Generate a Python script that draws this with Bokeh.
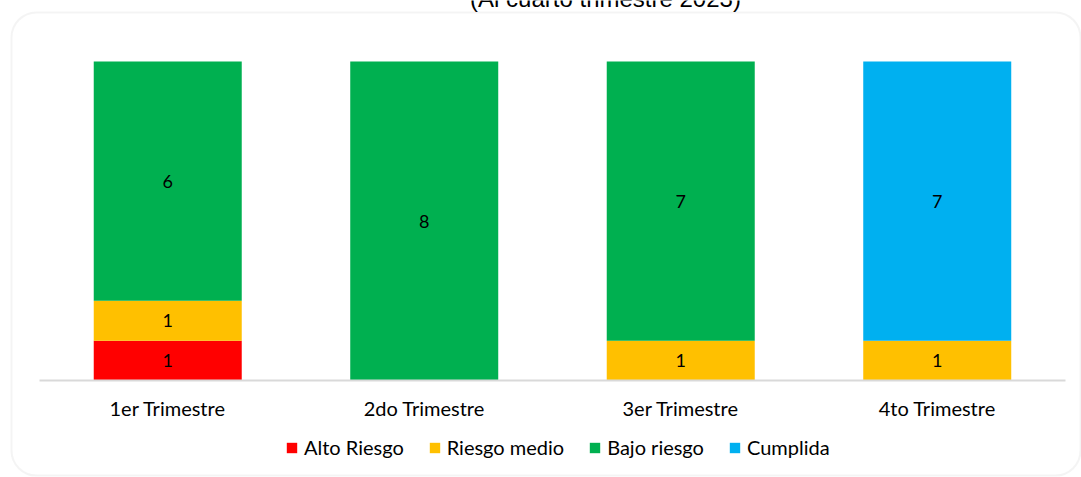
from bokeh.plotting import figure
from bokeh.models import (ColumnDataSource, Range1d, Legend, LegendItem,
                          BoxAnnotation, Label, FixedTicker)
from bokeh.core.properties import value
from bokeh.embed import file_html
from bokeh.resources import INLINE

categories = ["1er Trimestre", "2do Trimestre", "3er Trimestre", "4to Trimestre"]
series_names = ["Alto Riesgo", "Riesgo medio", "Bajo riesgo", "Cumplida"]
alto_riesgo = [1, 0, 0, 0]
riesgo_medio = [1, 0, 1, 1]
bajo_riesgo = [6, 8, 7, 0]
cumplida = [0, 0, 0, 7]
colors = ["#FF0000", "#FFC000", "#00B050", "#00B0F0"]
title_text = "(Al cuarto trimestre 2023)"

FONT = "Lato"
keys = ["alto", "medio", "bajo", "cumplida"]
xpos = list(range(len(categories)))
data = {"x": xpos, "alto": alto_riesgo, "medio": riesgo_medio,
        "bajo": bajo_riesgo, "cumplida": cumplida}
src = ColumnDataSource(data)

W, H = 1081, 477
p = figure(width=W, height=H,
           x_range=Range1d(-0.652, 3.5624), y_range=Range1d(-2.4326, 9.5298),
           output_backend="svg", toolbar_location=None,
           min_border_left=0, min_border_right=0, min_border_top=0, min_border_bottom=0,
           y_axis_location=None)
p.outline_line_color = None
p.xgrid.visible = False
p.ygrid.visible = False
p.background_fill_color = "white"
p.border_fill_color = "white"

renderers = p.vbar_stack(keys, x="x", width=0.577, source=src, color=colors,
                         line_color=None)

# data labels
lx, ly, lt = [], [], []
series = [alto_riesgo, riesgo_medio, bajo_riesgo, cumplida]
for i in xpos:
    base = 0
    for s in series:
        v = s[i]
        if v:
            lx.append(i)
            ly.append(base + v / 2)
            lt.append(str(v))
        base += v
p.text(x=lx, y=ly, text=lt, text_align="center", text_baseline="middle",
       text_font=value(FONT), text_font_size="18px", text_color="#000000")

ax = p.xaxis[0]
ax.fixed_location = 0
ax.bounds = (-0.5, 3.5)
ax.ticker = FixedTicker(ticks=xpos)
ax.major_label_overrides = {i: c for i, c in zip(xpos, categories)}
ax.axis_line_color = "#D9D9D9"
ax.axis_line_width = 2
ax.major_tick_line_color = None
ax.minor_tick_line_color = None
ax.major_label_text_font = FONT
ax.major_label_text_font_size = "20px"
ax.major_label_text_color = "#000000"
ax.major_label_standoff = 9

legend = Legend(items=[LegendItem(label=n, renderers=[r]) for n, r in zip(series_names, renderers)],
                orientation="horizontal", location=(285, 18),
                glyph_width=13, glyph_height=13, label_standoff=6, spacing=24,
                label_text_font=FONT, label_text_font_size="20px", label_text_color="#000000",
                border_line_color=None, background_fill_alpha=0, padding=5, margin=0)
p.add_layout(legend)

# rounded chart-area border
p.add_layout(BoxAnnotation(left=11, right=1080, top=12, bottom=475,
                           left_units="canvas", right_units="canvas",
                           top_units="canvas", bottom_units="canvas",
                           fill_alpha=0, line_color="#D9D9D9", line_width=2,
                           border_radius=25))

p.add_layout(Label(x=605, y=11, x_units="canvas", y_units="canvas", text=title_text,
                   text_align="center", text_baseline="bottom",
                   text_font="Liberation Sans", text_font_size="24px",
                   text_color="#000000"))

open("out.html", "w").write(file_html(p, INLINE))
